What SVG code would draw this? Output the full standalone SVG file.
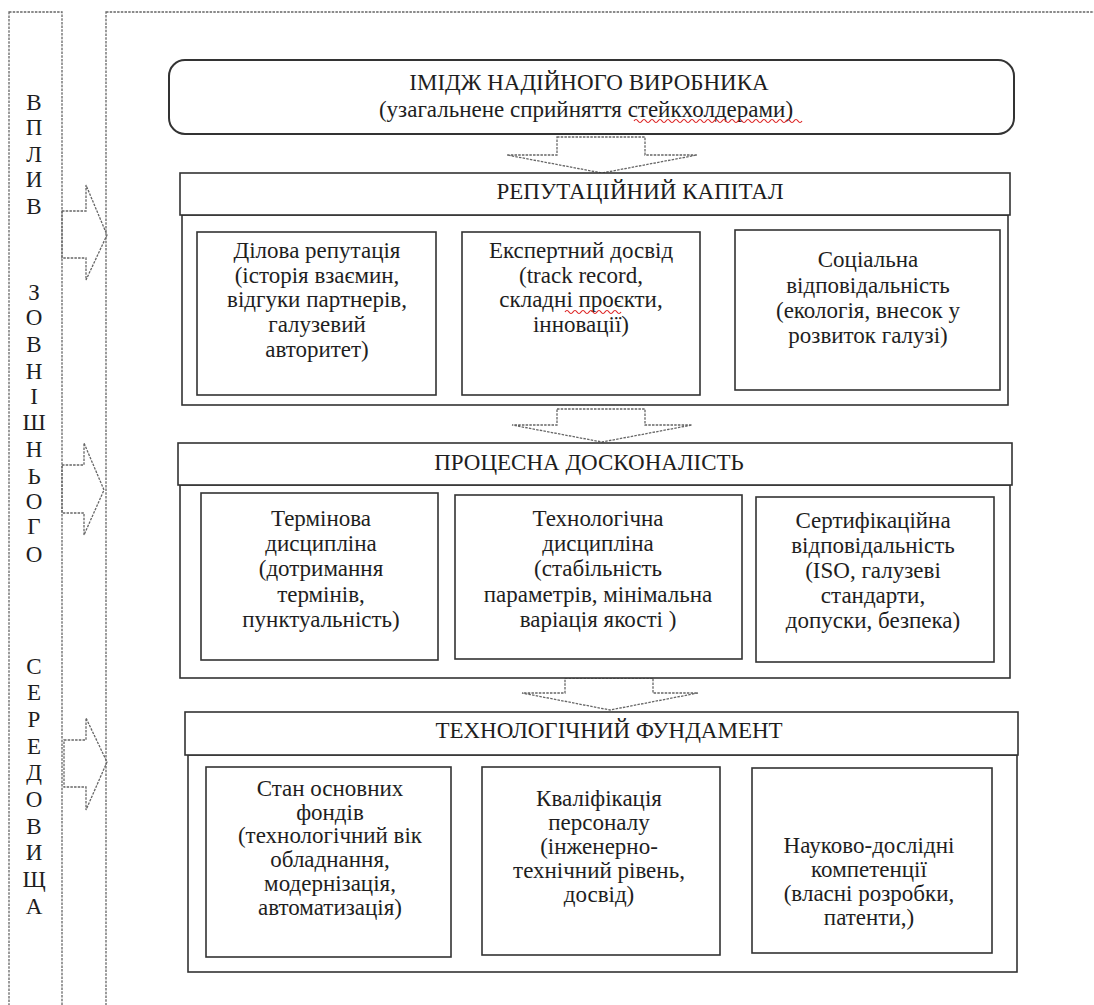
<svg xmlns="http://www.w3.org/2000/svg" width="1094" height="1005" viewBox="0 0 1094 1005">
<defs>
<path id="wave" d="M0,0 q2,-3 4,0 t4,0 t4,0 t4,0 t4,0 t4,0 t4,0 t4,0 t4,0 t4,0 t4,0 t4,0 t4,0 t4,0"/>
</defs>
<rect width="1094" height="1005" fill="#fff"/>
<g id="frame" fill="none" stroke="#666" stroke-width="1.3" stroke-dasharray="2.5 1.2">
<rect x="9" y="12" width="53" height="1010"/>
<rect x="106" y="12" width="1000" height="1010"/>
</g>
<g id="connectors" fill="none" stroke="#666" stroke-width="1.3" stroke-dasharray="2.5 1.2">
<polygon points="62,211 86,211 86,185 107,235 86,280 86,258 62,258"/>
<polygon points="62,465 84,465 84,443 104,490 84,535 84,513 62,513"/>
<polygon points="64,740 86,740 86,718 107,762 86,810 86,787 64,787"/>
<polygon points="557,137 645,137 645,155 697,155 602,173 507,155 557,155"/>
<polygon points="557,409 645,409 645,425 692,425 602,442 512,425 557,425"/>
<polygon points="565,678 653,678 653,693 698,693 610,710 522,693 565,693"/>
</g>
<g font-size="23" fill="#1e1e1e" text-anchor="middle">
<g id="side-label">
<text style="font-family:'Liberation Serif',serif" x="34" y="110">В</text><text style="font-family:'Liberation Serif',serif" x="34" y="135">П</text><text style="font-family:'Liberation Serif',serif" x="34" y="162">Л</text><text style="font-family:'Liberation Serif',serif" x="34" y="187">И</text><text style="font-family:'Liberation Serif',serif" x="34" y="214">В</text>
<text style="font-family:'Liberation Serif',serif" x="34" y="300">З</text><text style="font-family:'Liberation Serif',serif" x="34" y="325">О</text><text style="font-family:'Liberation Serif',serif" x="34" y="352">В</text><text style="font-family:'Liberation Serif',serif" x="34" y="379">Н</text><text style="font-family:'Liberation Serif',serif" x="34" y="404">І</text><text style="font-family:'Liberation Serif',serif" x="34" y="430">Ш</text><text style="font-family:'Liberation Serif',serif" x="34" y="457">Н</text><text style="font-family:'Liberation Serif',serif" x="34" y="484">Ь</text><text style="font-family:'Liberation Serif',serif" x="34" y="509">О</text><text style="font-family:'Liberation Serif',serif" x="34" y="534">Г</text><text style="font-family:'Liberation Serif',serif" x="34" y="562">О</text>
<text style="font-family:'Liberation Serif',serif" x="34" y="674">С</text><text style="font-family:'Liberation Serif',serif" x="34" y="700">Е</text><text style="font-family:'Liberation Serif',serif" x="34" y="727">Р</text><text style="font-family:'Liberation Serif',serif" x="34" y="754">Е</text><text style="font-family:'Liberation Serif',serif" x="34" y="780">Д</text><text style="font-family:'Liberation Serif',serif" x="34" y="807">О</text><text style="font-family:'Liberation Serif',serif" x="34" y="834">В</text><text style="font-family:'Liberation Serif',serif" x="34" y="860">И</text><text style="font-family:'Liberation Serif',serif" x="34" y="887">Щ</text><text style="font-family:'Liberation Serif',serif" x="34" y="914">А</text>
</g>
<g id="image-node">
<rect x="169" y="60" width="845" height="74" rx="16" fill="#fff" stroke="#333" stroke-width="2"/>
<text style="font-family:'Liberation Serif',serif" x="589" y="90">ІМІДЖ НАДІЙНОГО ВИРОБНИКА</text>
<text style="font-family:'Liberation Serif',serif" x="586" y="117">(узагальнене сприйняття стейкхолдерами)</text>
<use href="#wave" x="634" y="121" fill="none" stroke="#d22" stroke-width="1.2"/>
<use href="#wave" x="690" y="121" fill="none" stroke="#d22" stroke-width="1.2"/>
<use href="#wave" x="746" y="121" fill="none" stroke="#d22" stroke-width="1.2"/>
</g>
<g id="reputation">
<rect x="182" y="215" width="826" height="190" fill="#fff" stroke="#333" stroke-width="1.6"/>
<rect x="180" y="173" width="830" height="42" fill="#fff" stroke="#333" stroke-width="1.6"/>
<text style="font-family:'Liberation Serif',serif" x="640" y="199">РЕПУТАЦІЙНИЙ КАПІТАЛ</text>
</g>
<g id="rep-business">
<rect x="197" y="232" width="239" height="163" fill="#fff" stroke="#333" stroke-width="1.6"/>
<text style="font-family:'Liberation Serif',serif" x="317" y="258">Ділова репутація</text>
<text style="font-family:'Liberation Serif',serif" x="317" y="283">(історія взаємин,</text>
<text style="font-family:'Liberation Serif',serif" x="317" y="307">відгуки партнерів,</text>
<text style="font-family:'Liberation Serif',serif" x="317" y="332">галузевий</text>
<text style="font-family:'Liberation Serif',serif" x="317" y="357">авторитет)</text>
</g>
<g id="rep-expert">
<rect x="462" y="232" width="238" height="163" fill="#fff" stroke="#333" stroke-width="1.6"/>
<text style="font-family:'Liberation Serif',serif" x="581" y="258">Експертний досвід</text>
<text style="font-family:'Liberation Serif',serif" x="581" y="283">(track record,</text>
<text style="font-family:'Liberation Serif',serif" x="581" y="307">складні проєкти,</text>
<text style="font-family:'Liberation Serif',serif" x="581" y="332">інновації)</text>
<use href="#wave" x="565" y="312" fill="none" stroke="#d22" stroke-width="1.2"/>
</g>
<g id="rep-social">
<rect x="735" y="230" width="265" height="160" fill="#fff" stroke="#333" stroke-width="1.6"/>
<text style="font-family:'Liberation Serif',serif" x="868" y="267">Соціальна</text>
<text style="font-family:'Liberation Serif',serif" x="868" y="293">відповідальність</text>
<text style="font-family:'Liberation Serif',serif" x="868" y="318">(екологія, внесок у</text>
<text style="font-family:'Liberation Serif',serif" x="868" y="343">розвиток галузі)</text>
</g>
<g id="process">
<rect x="180" y="485" width="830" height="193" fill="#fff" stroke="#333" stroke-width="1.6"/>
<rect x="178" y="443" width="834" height="42" fill="#fff" stroke="#333" stroke-width="1.6"/>
<text style="font-family:'Liberation Serif',serif" x="589" y="470">ПРОЦЕСНА ДОСКОНАЛІСТЬ</text>
</g>
<g id="proc-time">
<rect x="201" y="493" width="237" height="167" fill="#fff" stroke="#333" stroke-width="1.6"/>
<text style="font-family:'Liberation Serif',serif" x="321" y="526">Термінова</text>
<text style="font-family:'Liberation Serif',serif" x="321" y="551">дисципліна</text>
<text style="font-family:'Liberation Serif',serif" x="321" y="576">(дотримання</text>
<text style="font-family:'Liberation Serif',serif" x="321" y="602">термінів,</text>
<text style="font-family:'Liberation Serif',serif" x="321" y="627">пунктуальність)</text>
</g>
<g id="proc-tech">
<rect x="455" y="495" width="287" height="164" fill="#fff" stroke="#333" stroke-width="1.6"/>
<text style="font-family:'Liberation Serif',serif" x="598" y="526">Технологічна</text>
<text style="font-family:'Liberation Serif',serif" x="598" y="551">дисципліна</text>
<text style="font-family:'Liberation Serif',serif" x="598" y="576">(стабільність</text>
<text style="font-family:'Liberation Serif',serif" x="598" y="602">параметрів, мінімальна</text>
<text style="font-family:'Liberation Serif',serif" x="598" y="627">варіація якості )</text>
</g>
<g id="proc-cert">
<rect x="756" y="497" width="238" height="165" fill="#fff" stroke="#333" stroke-width="1.6"/>
<text style="font-family:'Liberation Serif',serif" x="873" y="528">Сертифікаційна</text>
<text style="font-family:'Liberation Serif',serif" x="873" y="553">відповідальність</text>
<text style="font-family:'Liberation Serif',serif" x="873" y="578">(ISO, галузеві</text>
<text style="font-family:'Liberation Serif',serif" x="873" y="603">стандарти,</text>
<text style="font-family:'Liberation Serif',serif" x="873" y="628">допуски, безпека)</text>
</g>
<g id="foundation">
<rect x="188" y="755" width="829" height="217" fill="#fff" stroke="#333" stroke-width="1.6"/>
<rect x="185" y="712" width="833" height="43" fill="#fff" stroke="#333" stroke-width="1.6"/>
<text style="font-family:'Liberation Serif',serif" x="609" y="738">ТЕХНОЛОГІЧНИЙ ФУНДАМЕНТ</text>
</g>
<g id="fund-assets">
<rect x="206" y="767" width="245" height="190" fill="#fff" stroke="#333" stroke-width="1.6"/>
<text style="font-family:'Liberation Serif',serif" x="330" y="796">Стан основних</text>
<text style="font-family:'Liberation Serif',serif" x="330" y="820">фондів</text>
<text style="font-family:'Liberation Serif',serif" x="330" y="843">(технологічний вік</text>
<text style="font-family:'Liberation Serif',serif" x="330" y="867">обладнання,</text>
<text style="font-family:'Liberation Serif',serif" x="330" y="891">модернізація,</text>
<text style="font-family:'Liberation Serif',serif" x="330" y="915">автоматизація)</text>
</g>
<g id="fund-staff">
<rect x="482" y="767" width="238" height="188" fill="#fff" stroke="#333" stroke-width="1.6"/>
<text style="font-family:'Liberation Serif',serif" x="599" y="806">Кваліфікація</text>
<text style="font-family:'Liberation Serif',serif" x="599" y="830">персоналу</text>
<text style="font-family:'Liberation Serif',serif" x="599" y="854">(інженерно-</text>
<text style="font-family:'Liberation Serif',serif" x="599" y="878">технічний рівень,</text>
<text style="font-family:'Liberation Serif',serif" x="599" y="902">досвід)</text>
</g>
<g id="fund-rnd">
<rect x="752" y="768" width="240" height="185" fill="#fff" stroke="#333" stroke-width="1.6"/>
<text style="font-family:'Liberation Serif',serif" x="869" y="853">Науково-дослідні</text>
<text style="font-family:'Liberation Serif',serif" x="869" y="877">компетенції</text>
<text style="font-family:'Liberation Serif',serif" x="869" y="901">(власні розробки,</text>
<text style="font-family:'Liberation Serif',serif" x="869" y="925">патенти,)</text>
</g>
</g>
</svg>
